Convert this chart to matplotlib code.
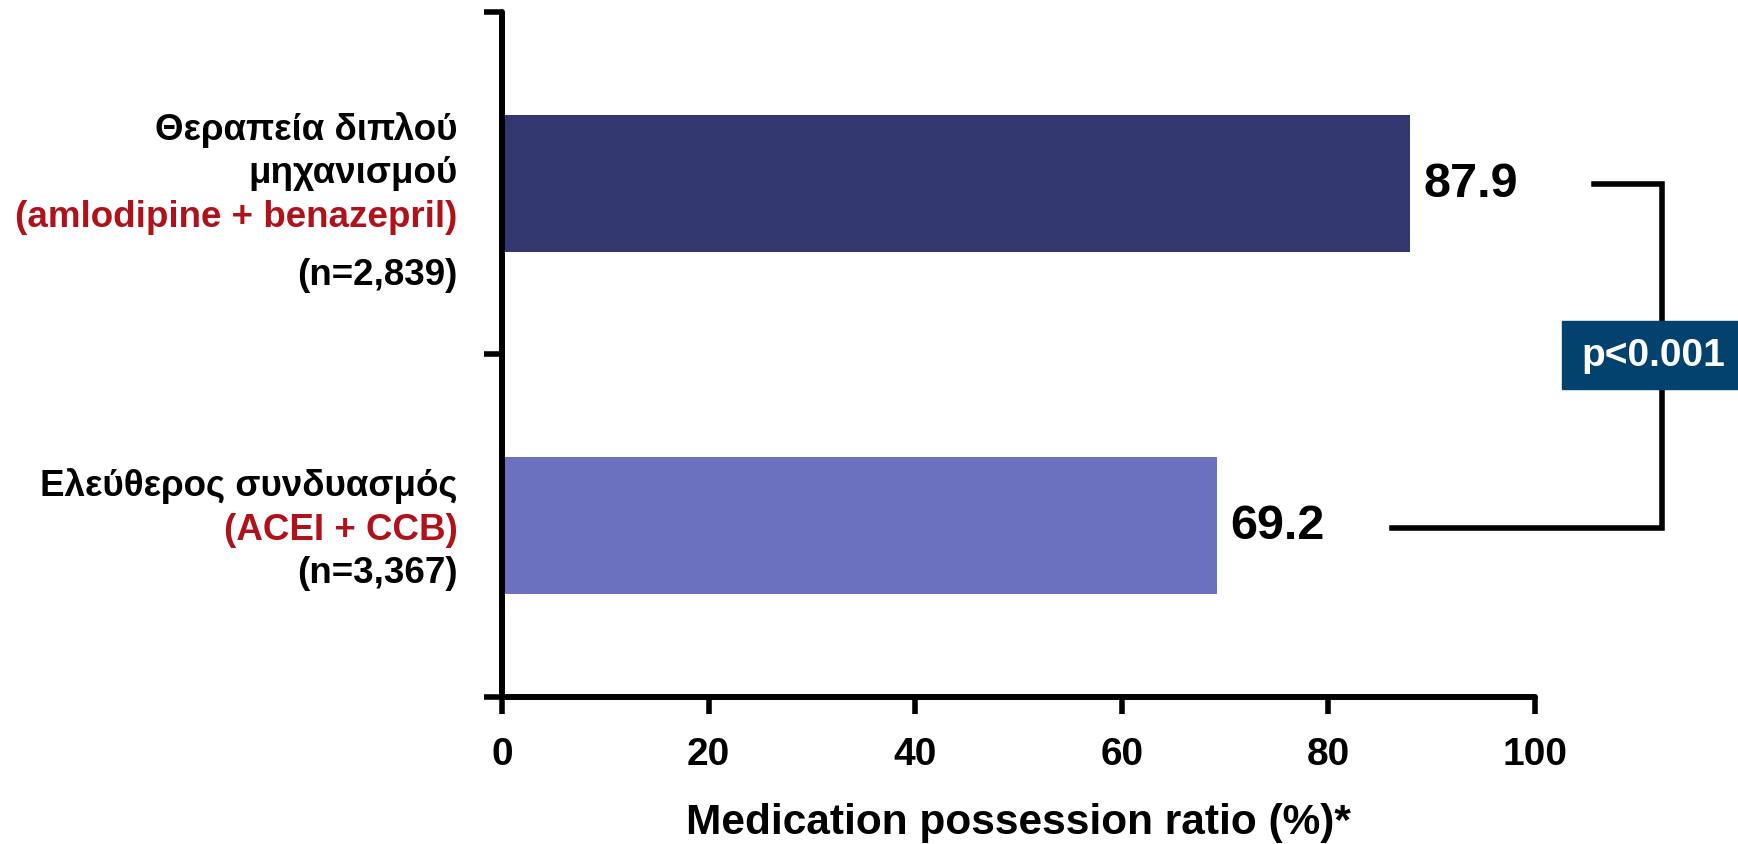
import matplotlib.pyplot as plt

plt.rcParams['font.family'] = ['Liberation Sans', 'DejaVu Sans']
plt.rcParams['font.weight'] = 'bold'

# data
groups = ['Θεραπεία διπλού μηχανισμού', 'Ελεύθερος συνδυασμός']
values = [87.9, 69.2]
bar_colors = ['#33376f', '#6b70bf']
top_lines = ['Θεραπεία διπλού', 'μηχανισμού', '(amlodipine + benazepril)', '(n=2,839)']
top_colors = ['black', 'black', '#b0121b', 'black']
bot_lines = ['Ελεύθερος συνδυασμός', '(ACEI + CCB)', '(n=3,367)']
bot_colors = ['black', '#b0121b', 'black']
xticks = [0, 20, 40, 60, 80, 100]
p_text = 'p<0.001'

fig = plt.figure(figsize=(17.38, 8.45), dpi=100)
ax = fig.add_axes([0.2888, 0.174, 0.5944, 0.8106])

ypos = [1.5, 0.5]
ax.barh(ypos, values, height=0.4, color=bar_colors)
for y, v in zip(ypos, values):
    ax.text(v + 1.3, y, f'{v:.1f}', ha='left', va='center', fontsize=35, fontweight='bold')

ax.set_xlim(0, 100)
ax.set_ylim(0, 2)
ax.set_xticks(xticks)
ax.set_xticklabels([str(t) for t in xticks], fontsize=28, fontweight='bold')
ax.set_yticks([0, 1, 2])
ax.set_yticklabels([])
ax.tick_params(axis='x', length=12, width=4, pad=16)
ax.tick_params(axis='y', length=13, width=4)
ax.set_xlabel('Medication possession ratio (%)*', fontsize=30.5, fontweight='bold', labelpad=22)

for s in ['top', 'right']:
    ax.spines[s].set_visible(False)
for s in ['left', 'bottom']:
    ax.spines[s].set_linewidth(4.3)
    ax.spines[s].set_capstyle('round')

# category labels
for txt, c, y in zip(top_lines, top_colors, [1.658, 1.530, 1.402, 1.235]):
    ax.text(-4.3, y, txt, ha='right', va='center', fontsize=26.5, color=c, fontweight='bold', clip_on=False)
for txt, c, y in zip(bot_lines, bot_colors, [0.620, 0.490, 0.362]):
    ax.text(-4.3, y, txt, ha='right', va='center', fontsize=26.5, color=c, fontweight='bold', clip_on=False)

# significance bracket
ax.plot([105.7, 112.3, 112.3, 86.2], [1.498, 1.498, 0.493, 0.493], color='black', lw=4,
        clip_on=False, solid_joinstyle='miter')
ax.add_patch(plt.Rectangle((102.6, 0.899), 17.5, 0.2, color='#03426f', clip_on=False, zorder=5))
ax.text(111.5, 0.998, p_text, ha='center', va='center', fontsize=28, color='white',
        fontweight='bold', zorder=6, clip_on=False)

fig.savefig('out.png', dpi=100)
